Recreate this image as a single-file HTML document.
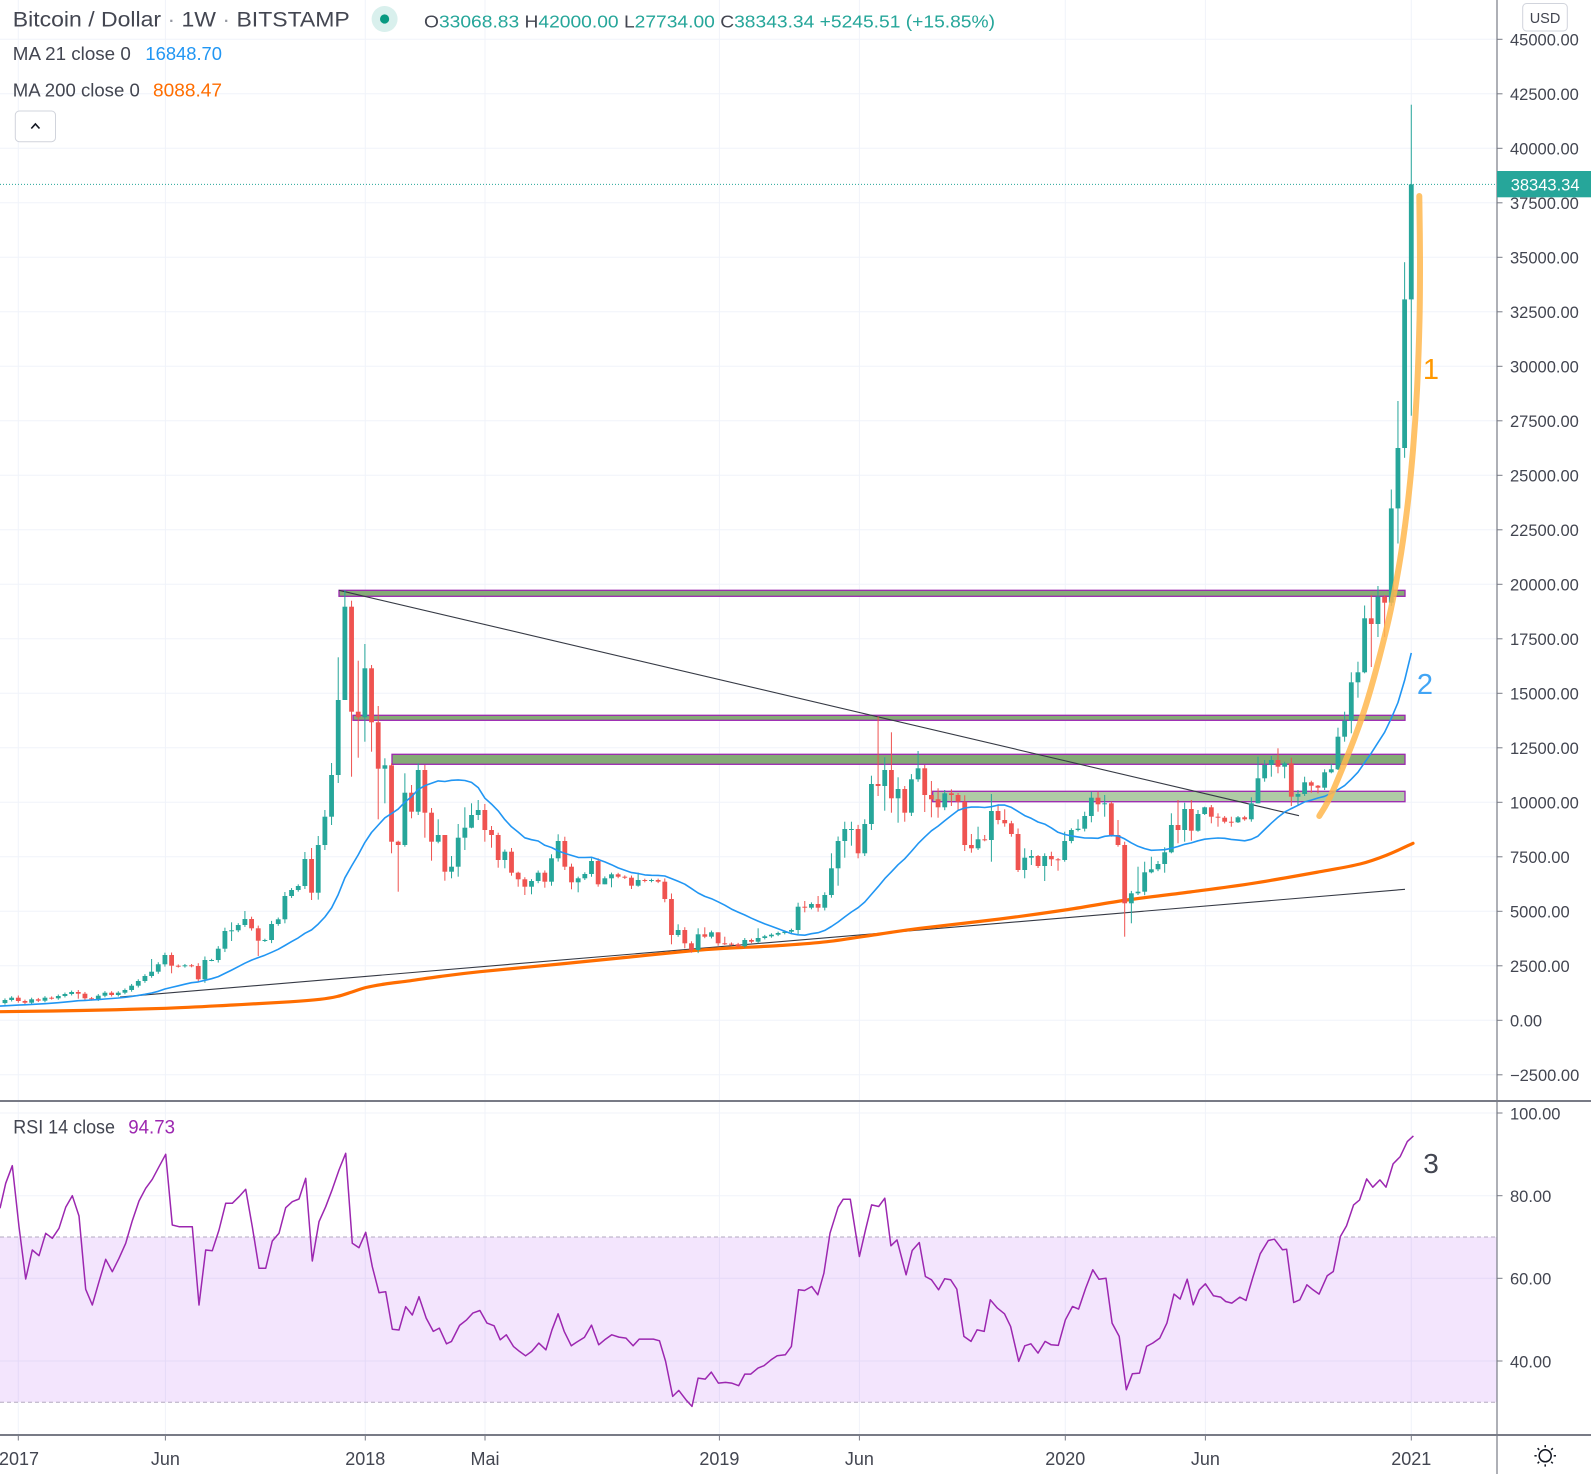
<!DOCTYPE html>
<html><head><meta charset="utf-8"><title>Bitcoin / Dollar 1W</title>
<style>
html,body{margin:0;padding:0;background:#fff}
body{width:1591px;height:1474px;overflow:hidden}
svg{display:block;font-family:"Liberation Sans",Arial,sans-serif}
</style></head><body>
<svg id="c" width="1591" height="1474" viewBox="0 0 1591 1474" xmlns="http://www.w3.org/2000/svg">
<rect width="1591" height="1474" fill="#fff"/>
<!-- grid -->
<g stroke="#f0f3fa" stroke-width="1">
<line x1="18.3" y1="0" x2="18.3" y2="1435"/><line x1="165.4" y1="0" x2="165.4" y2="1435"/>
<line x1="365.3" y1="0" x2="365.3" y2="1435"/><line x1="485" y1="0" x2="485" y2="1435"/>
<line x1="719.4" y1="0" x2="719.4" y2="1435"/><line x1="859.4" y1="0" x2="859.4" y2="1435"/>
<line x1="1065.3" y1="0" x2="1065.3" y2="1435"/><line x1="1205.4" y1="0" x2="1205.4" y2="1435"/>
<line x1="1411.3" y1="0" x2="1411.3" y2="1435"/>
<line x1="0" y1="39.3" x2="1497" y2="39.3"/><line x1="0" y1="93.8" x2="1497" y2="93.8"/>
<line x1="0" y1="148.3" x2="1497" y2="148.3"/><line x1="0" y1="202.8" x2="1497" y2="202.8"/>
<line x1="0" y1="257.3" x2="1497" y2="257.3"/><line x1="0" y1="311.8" x2="1497" y2="311.8"/>
<line x1="0" y1="366.3" x2="1497" y2="366.3"/><line x1="0" y1="420.8" x2="1497" y2="420.8"/>
<line x1="0" y1="475.3" x2="1497" y2="475.3"/><line x1="0" y1="529.8" x2="1497" y2="529.8"/>
<line x1="0" y1="584.3" x2="1497" y2="584.3"/><line x1="0" y1="638.8" x2="1497" y2="638.8"/>
<line x1="0" y1="693.3" x2="1497" y2="693.3"/><line x1="0" y1="747.8" x2="1497" y2="747.8"/>
<line x1="0" y1="802.3" x2="1497" y2="802.3"/><line x1="0" y1="856.8" x2="1497" y2="856.8"/>
<line x1="0" y1="911.3" x2="1497" y2="911.3"/><line x1="0" y1="965.8" x2="1497" y2="965.8"/>
<line x1="0" y1="1020.3" x2="1497" y2="1020.3"/><line x1="0" y1="1074.8" x2="1497" y2="1074.8"/>
<line x1="0" y1="1113" x2="1497" y2="1113"/><line x1="0" y1="1195.7" x2="1497" y2="1195.7"/>
<line x1="0" y1="1278.3" x2="1497" y2="1278.3"/><line x1="0" y1="1361" x2="1497" y2="1361"/>
</g>
<!-- RSI band -->
<rect x="0" y="1237" width="1497" height="165.3" fill="rgb(155,38,238)" fill-opacity="0.12"/>
<g stroke="#b3a9c0" stroke-width="1" stroke-dasharray="4 3">
<line x1="0" y1="1237" x2="1497" y2="1237"/><line x1="0" y1="1402.3" x2="1497" y2="1402.3"/>
</g>
<!-- zones -->
<g stroke="#9c27b0" stroke-width="1.3">
<rect x="339" y="590.3" width="1066" height="6" fill="#85ab76"/>
<rect x="353" y="715.3" width="1052" height="5" fill="#85ab76"/>
<rect x="392" y="754.3" width="1013" height="10" fill="#85ab76"/>
<rect x="932.7" y="791.3" width="472.3" height="10.4" fill="#afcba5"/>
</g>
<!-- trendlines -->
<line x1="339" y1="590.3" x2="1299" y2="815.7" stroke="#363a45" stroke-width="1.1"/>
<line x1="120" y1="997" x2="1405" y2="889.3" stroke="#363a45" stroke-width="1.1"/>
<g id="dyn"></g>
<!-- current price line -->
<line x1="0" y1="184.4" x2="1497" y2="184.4" stroke="#26a69a" stroke-width="1" stroke-dasharray="1 2"/>
<!-- annotations -->
<text x="1431" y="379" font-size="29" fill="#ff9800" text-anchor="middle">1</text>
<text x="1425" y="694" font-size="29" fill="#42a5f5" text-anchor="middle">2</text>
<text x="1431" y="1173" font-size="28" fill="#434651" text-anchor="middle">3</text>
<!-- axes -->
<rect x="1498" y="0" width="93" height="1474" fill="#fff"/>
<rect x="0" y="1436" width="1591" height="38" fill="#fff"/>
<line x1="1497" y1="0" x2="1497" y2="1474" stroke="#787b86" stroke-width="1.2"/>
<line x1="0" y1="1101" x2="1591" y2="1101" stroke="#787b86" stroke-width="2"/>
<line x1="0" y1="1435" x2="1591" y2="1435" stroke="#787b86" stroke-width="2"/>
<g stroke="#787b86" stroke-width="1">
<line x1="1497" y1="39.3" x2="1502.5" y2="39.3"/><line x1="1497" y1="93.8" x2="1502.5" y2="93.8"/>
<line x1="1497" y1="148.3" x2="1502.5" y2="148.3"/><line x1="1497" y1="202.8" x2="1502.5" y2="202.8"/>
<line x1="1497" y1="257.3" x2="1502.5" y2="257.3"/><line x1="1497" y1="311.8" x2="1502.5" y2="311.8"/>
<line x1="1497" y1="366.3" x2="1502.5" y2="366.3"/><line x1="1497" y1="420.8" x2="1502.5" y2="420.8"/>
<line x1="1497" y1="475.3" x2="1502.5" y2="475.3"/><line x1="1497" y1="529.8" x2="1502.5" y2="529.8"/>
<line x1="1497" y1="584.3" x2="1502.5" y2="584.3"/><line x1="1497" y1="638.8" x2="1502.5" y2="638.8"/>
<line x1="1497" y1="693.3" x2="1502.5" y2="693.3"/><line x1="1497" y1="747.8" x2="1502.5" y2="747.8"/>
<line x1="1497" y1="802.3" x2="1502.5" y2="802.3"/><line x1="1497" y1="856.8" x2="1502.5" y2="856.8"/>
<line x1="1497" y1="911.3" x2="1502.5" y2="911.3"/><line x1="1497" y1="965.8" x2="1502.5" y2="965.8"/>
<line x1="1497" y1="1020.3" x2="1502.5" y2="1020.3"/><line x1="1497" y1="1074.8" x2="1502.5" y2="1074.8"/>
<line x1="1497" y1="1113" x2="1502.5" y2="1113"/><line x1="1497" y1="1195.7" x2="1502.5" y2="1195.7"/>
<line x1="1497" y1="1278.3" x2="1502.5" y2="1278.3"/><line x1="1497" y1="1361" x2="1502.5" y2="1361"/>
<line x1="18.3" y1="1436" x2="18.3" y2="1440.5"/><line x1="165.4" y1="1436" x2="165.4" y2="1440.5"/>
<line x1="365.3" y1="1436" x2="365.3" y2="1440.5"/><line x1="485" y1="1436" x2="485" y2="1440.5"/>
<line x1="719.4" y1="1436" x2="719.4" y2="1440.5"/><line x1="859.4" y1="1436" x2="859.4" y2="1440.5"/>
<line x1="1065.3" y1="1436" x2="1065.3" y2="1440.5"/><line x1="1205.4" y1="1436" x2="1205.4" y2="1440.5"/>
<line x1="1411.3" y1="1436" x2="1411.3" y2="1440.5"/>
</g>
<g font-size="16.5" fill="#434651">
<text x="1510" y="45.7">45000.00</text><text x="1510" y="100.2">42500.00</text>
<text x="1510" y="154.7">40000.00</text><text x="1510" y="209.2">37500.00</text>
<text x="1510" y="263.7">35000.00</text><text x="1510" y="318.2">32500.00</text>
<text x="1510" y="372.7">30000.00</text><text x="1510" y="427.2">27500.00</text>
<text x="1510" y="481.7">25000.00</text><text x="1510" y="536.2">22500.00</text>
<text x="1510" y="590.7">20000.00</text><text x="1510" y="645.2">17500.00</text>
<text x="1510" y="699.7">15000.00</text><text x="1510" y="754.2">12500.00</text>
<text x="1510" y="808.7">10000.00</text><text x="1510" y="863.2">7500.00</text>
<text x="1510" y="917.7">5000.00</text><text x="1510" y="972.2">2500.00</text>
<text x="1510" y="1026.7">0.00</text><text x="1510" y="1081.2">−2500.00</text>
<text x="1510" y="1119.4">100.00</text><text x="1510" y="1202.1">80.00</text>
<text x="1510" y="1284.7">60.00</text><text x="1510" y="1367.4">40.00</text>
</g>
<rect x="1497" y="171" width="94" height="26.3" fill="#26a69a"/>
<text x="1510.7" y="190.4" font-size="16.5" fill="#ffffff">38343.34</text>
<rect x="1522.7" y="3.5" width="44.6" height="27.5" rx="4" fill="#fff" stroke="#d1d4dc" stroke-width="1"/>
<text x="1545" y="22.8" font-size="14.5" fill="#434651" text-anchor="middle">USD</text>
<g font-size="18" fill="#434651" text-anchor="middle">
<text x="19" y="1465">2017</text><text x="165.4" y="1465">Jun</text>
<text x="365.3" y="1465">2018</text><text x="485" y="1465">Mai</text>
<text x="719.4" y="1465">2019</text><text x="859.4" y="1465">Jun</text>
<text x="1065.3" y="1465">2020</text><text x="1205.4" y="1465">Jun</text>
<text x="1411.3" y="1465">2021</text>
</g>
<g stroke="#131722" stroke-width="1.5" fill="none">
<circle cx="1545.2" cy="1455.8" r="6"/>
<line x1="1545.2" y1="1445" x2="1545.2" y2="1447.3"/><line x1="1545.2" y1="1464.3" x2="1545.2" y2="1466.6"/>
<line x1="1534.4" y1="1455.8" x2="1536.7" y2="1455.8"/><line x1="1553.7" y1="1455.8" x2="1556" y2="1455.8"/>
<line x1="1537.6" y1="1448.2" x2="1539.2" y2="1449.8"/><line x1="1551.2" y1="1461.8" x2="1552.8" y2="1463.4"/>
<line x1="1537.6" y1="1463.4" x2="1539.2" y2="1461.8"/><line x1="1551.2" y1="1449.8" x2="1552.8" y2="1448.2"/>
</g>
<!-- legend -->
<text x="12.8" y="26.7" font-size="21" fill="#434651" textLength="337" lengthAdjust="spacingAndGlyphs">Bitcoin / Dollar <tspan fill="#9598a1">·</tspan> 1W <tspan fill="#9598a1">·</tspan> BITSTAMP</text>
<circle cx="384.6" cy="19" r="13" fill="#d9f0ed"/>
<circle cx="384.6" cy="19" r="4.6" fill="#089981"/>
<text x="424" y="27.3" font-size="17.5" fill="#26a69a" textLength="571" lengthAdjust="spacingAndGlyphs"><tspan fill="#434651">O</tspan>33068.83 <tspan fill="#434651">H</tspan>42000.00 <tspan fill="#434651">L</tspan>27734.00 <tspan fill="#434651">C</tspan>38343.34 +5245.51 (+15.85%)</text>
<text x="12.8" y="60" font-size="18.5" fill="#434651" textLength="118" lengthAdjust="spacingAndGlyphs">MA 21 close 0</text>
<text x="145.4" y="60" font-size="18.5" fill="#2196f3" textLength="76.6" lengthAdjust="spacingAndGlyphs">16848.70</text>
<text x="12.8" y="96.5" font-size="18.5" fill="#434651" textLength="127" lengthAdjust="spacingAndGlyphs">MA 200 close 0</text>
<text x="153" y="96.5" font-size="18.5" fill="#ff6d00" textLength="69" lengthAdjust="spacingAndGlyphs">8088.47</text>
<rect x="15.3" y="111" width="40.2" height="30.7" rx="4" fill="#fff" stroke="#d1d4dc" stroke-width="1"/>
<path d="M31.3,128.5 L35.4,124 L39.5,128.5" fill="none" stroke="#131722" stroke-width="1.6"/>
<text x="13.3" y="1133.3" font-size="19" fill="#434651" textLength="101.7" lengthAdjust="spacingAndGlyphs">RSI 14 close</text>
<text x="128.3" y="1133.3" font-size="19" fill="#9c27b0" textLength="46.7" lengthAdjust="spacingAndGlyphs">94.73</text>
</svg>
<script>
(function(){
var NS="http://www.w3.org/2000/svg";
var dyn=document.getElementById('dyn');
function add(tag,a,parent){var e=document.createElementNS(NS,tag);for(var k in a)e.setAttribute(k,a[k]);(parent||dyn).appendChild(e);return e;}
function yp(p){return 1020.3-p*0.0218;}
function xk(k){return 18.3+k*6.665;}
function smooth(pts){var d='M'+pts[0][0]+','+pts[0][1];for(var i=0;i<pts.length-1;i++){var p0=pts[i-1]||pts[i],p1=pts[i],p2=pts[i+1],p3=pts[i+2]||p2;var c1x=p1[0]+(p2[0]-p0[0])/6,c1y=p1[1]+(p2[1]-p0[1])/6,c2x=p2[0]-(p3[0]-p1[0])/6,c2y=p2[1]-(p3[1]-p1[1])/6;d+=' C'+c1x.toFixed(2)+','+c1y.toFixed(2)+' '+c2x.toFixed(2)+','+c2y.toFixed(2)+' '+p2[0]+','+p2[1];}return d;}
var pre=[655,624,590,568,580,570,608,606,608,602,612,617,638,657,700,703,703,740,736,765,790].map(yp);
var raw="-2 1000\n-1 997.7\n0 1001 995.5 1002.7\n1 1002.7\n2 999.3\n3 1000.7\n4 997.7\n5 998.3\n6 996\n7 994\n8 992\n9 993.7 990 998.7\n10 998.3\n11 999.3\n12 995.7\n13 992.7\n14 995\n15 992.7\n16 990\n17 985.7\n18 981\n19 976\n20 971.7 959 0\n21 964.3\n22 955\n23 965.7 0 973.3\n24 966.3\n25 965.3\n26 966\n27 979.3\n28 960\n29 960\n30 948.7\n31 931\n32 930.3 922.3 941\n33 925\n34 919 911 0\n35 928.3\n36 940.7 0 956\n37 940\n38 924\n39 919.3\n40 896\n41 890\n42 886\n43 859 852 889\n44 892.7 848 900\n45 845 836 0\n46 816.7 810 850\n47 775 763 825\n48 700 657.3 783\n49 606.7 590 700\n50 711.7 600.7 776.7\n51 717.3 660.7 757.7\n52 668.3 644 741.7\n53 722.3 665 751.7\n54 768.7 706 819.3\n55 765.3 758.3 803.3\n56 841.7 763.3 853.3\n57 845 840.7 891.7\n58 792.7 773.3 846.7\n59 811.7 785 818.3\n60 770 763.3 815\n61 812.7 765 837.7\n62 841.7 818.3 860.7\n63 835 819.3 843.3\n64 871.7 835 880.7\n65 866.7 856 878.3\n66 837.7 824 876.7\n67 827.7 807.3 850\n68 815 803.3 828.3\n69 810 800 820\n70 830 804 841.7\n71 835 826 847.7\n72 860 832.7 867.7\n73 851.7 0 868.3\n74 872.7 0 875.7\n75 879.3 871.7 886.7\n76 886.7 0 895\n77 881 0 894.3\n78 872.7\n79 881.7 0 887.7\n80 858.3\n81 841 834.3 0\n82 866.7 0 870\n83 882.3 0 889.3\n84 878.3 0 892.3\n85 874\n86 861\n87 884.3 858.3 886.7\n88 878.3 0 884.3\n89 874.3 0 887.3\n90 876.7\n91 877.7\n92 885.7 0 889\n93 880 872.7 886.7\n94 881\n95 880\n96 881.7\n97 899\n98 935 0 944.3\n99 930 924.3 0\n100 943.3 0 948.3\n101 950 0 952.7\n102 934.3 928.3 0\n103 936.7 927.3 0\n104 932.3\n105 943.3 932.3 0\n106 943.7 936.7 0\n107 944.3\n108 946.3\n109 940 0 947.7\n110 941.7\n111 938 928.3 0\n112 936.3\n113 934.7\n114 933\n115 931.7\n116 930\n117 906.7 902.7 0\n118 907.7 901 912.3\n119 904\n120 907.7 896 911.7\n121 895 892.3 0\n122 868.3 853.3 897.7\n123 841 0 885.7\n124 829 821.7 857.7\n125 829 821.7 845.7\n126 853.3 0 858.3\n127 824 0 856\n128 784 775.7 0\n129 786 716.7 796\n130 770 757.3 810.7\n131 798.3 732.3 812.7\n132 789 777.3 822.7\n133 812.7 786 821.7\n134 779.3 0 816\n135 768.3 751 0\n136 795 765 812\n137 799.3 781 817.3\n138 807.3 788.3 817.7\n139 793.3 790 806.7\n140 795 789.3 806\n141 801.7 0 810\n142 845 0 851\n143 848.3 834 852.7\n144 839.3 826.7 850\n145 840 835 0\n146 811 794 861.7\n147 820 804.3 824.3\n148 823.3 809.3 826.7\n149 834 0 836.7\n150 870 0 872\n151 857.7 848.3 878.3\n152 856 850 865\n153 866 855 868\n154 856 853.3 881\n155 859.3 851.7 866\n156 860 0 870.7\n157 841 831.7 861.7\n158 830 828.3 843.3\n159 828.7 819.3 0\n160 816 811.7 823.3\n161 797.7 791.7 822.3\n162 804.3 791.7 811.7\n163 803.3 795 816.7\n164 835 801.7 836.7\n165 845 820 846.7\n166 903.3 841.7 936.7\n167 893.3 0 923.3\n168 891.7 866.7 895\n169 872.3 861.7 0\n170 869.3 856.7 873.3\n171 864 861 0\n172 852.3 847.3 872.7\n173 825 813.3 853.3\n174 830 800 843.3\n175 809 802.7 841.7\n176 830.7 800 840.7\n177 814 810 831.7\n178 807.3 806.7 815\n179 816.7 805 823.3\n180 817.7 813.3 826.7\n181 821.7\n182 822.3 816.7 826.7\n183 817.3 816 823\n184 819.3\n185 803.3 797.3 821.7\n186 778.3 756.7 803.3\n187 765 760 781.7\n188 760 756 776.7\n189 766.7 748.3 773.3\n190 763.3 761.7 778.3\n191 796.7 757.7 806\n192 794 790 806\n193 782.3 776.7 796\n194 785.7 780.7 792.7\n195 787.7 785 793.3\n196 772.3 769.3 790\n197 769.3 764 773.3\n198 736.7 727.7 770\n199 720.7 711.7 741.7\n200 682.3 672.3 733.3\n201 672.3 661.7 697.7\n202 618.3 605.5 673.3\n203 624 595 667\n204 596.7 586 637\n205 602.7 595 637\n206 508.4 489.5 606\n207 448 401 543.5\n208 299.4 262.2 457.8\n209 184.4 104.7 415.7";
var rows=raw.split("\n").map(function(l){return l.trim().split(/\s+/).map(Number);});
var closes=pre.slice();
rows.forEach(function(r){closes.push(r[1]);});
/* MA200 */
var ma200=[[0,1011.7],[80,1010.5],[166,1008.3],[233,1005],[290,1001.8],[320,999.3],[337,996.5],[352,992],[366,987.5],[385,984],[410,980.8],[440,976.5],[480,971.7],[560,964],[630,957],[693,950.7],[727,948.3],[780,945.5],[827,941.7],[880,934],[920,928.3],[1000,919],[1065,910],[1127,900],[1190,892],[1253,883.3],[1320,871.7],[1360,864],[1387,855],[1413,843.3]];
add('path',{d:smooth(ma200),fill:'none',stroke:'#ff6d00','stroke-width':3.2,'stroke-linejoin':'round','stroke-linecap':'round'});
/* candles */
var gC=add('g',{});
var prev=pre[pre.length-1];
rows.forEach(function(r){
 var k=r[0],c=r[1],o=prev;prev=c;
 var top=Math.min(o,c),bot=Math.max(o,c),bh=bot-top;
 var h=r[2]||0,l=r[3]||0,ext=1.2+bh*0.12;
 if(!h||h>top)h=top-ext;
 if(!l||l<bot)l=bot+ext;
 var col=(c<=o)?'#26a69a':'#ef5350';
 var x=xk(k);
 add('rect',{x:(x-0.5).toFixed(2),y:h.toFixed(2),width:1,height:(l-h).toFixed(2),fill:col},gC);
 add('rect',{x:(x-2.4).toFixed(2),y:top.toFixed(2),width:4.8,height:Math.max(bh,1).toFixed(2),fill:col},gC);
});
/* MA21 */
var pts=[];
for(var i=20;i<closes.length;i++){var s=0;for(var j=i-20;j<=i;j++)s+=closes[j];pts.push(xk(i-23).toFixed(1)+','+(s/21).toFixed(1));}
add('polyline',{points:pts.join(' '),fill:'none',stroke:'#2196f3','stroke-width':1.6,'stroke-linejoin':'round'});
/* RSI */
var A=[0,1208.3,5.7,1183.3,12.3,1165.7,19,1226.7,25.7,1279,32.3,1250,39,1255.7,45.7,1233.3,52.3,1238.3,59,1228.3,65.7,1207.3,72.3,1195.7,79,1216,85.7,1289.3,92.3,1305,99,1281.7,105.7,1259.3,112.3,1271.7,119,1258.3,125.7,1243.3,132.3,1220.7,139,1201,145.7,1188.3,152.3,1179.3,159,1166.7,165.7,1154.3,172.3,1225,179,1226.7,192.3,1226.7,199,1305,205.7,1250,212.3,1250.7,219,1230,225.7,1203.3,232.3,1203.3,239,1196.7,245.7,1189.3,252.3,1226.7,259,1268.3,265.7,1268.3,272.3,1241,279,1233.3,285.7,1207.7,292.3,1201.7,299,1199,305.7,1178.3,312.3,1261,319,1221.7,325.7,1206.7,332.3,1189.3,339,1170,345.7,1153.3,352.3,1243.3,359,1247.7,365.7,1232.3,372.3,1266.7,379,1292.7,385.7,1291.7,392.3,1329.3,399,1330,405.7,1306.7,412.3,1315,419,1296.7];
var B=[420,775,427,815,433,805,440,852,445,845,453,797,460,780,466,760,473,752,480,790,487,798,493,840,499,825,506,860,512,875,518,888,524,875,531,850,538,870,544,810,550,762,556,815,563,858,568,848,576,833,583,796,590,855,596,840,603,825,610,832,617,835,624,858,630,838,637,838,644,838,650,843,656,905,663,1010,669,992,676,1020,682,1040,688,955,695,958,701,937,708,970,715,968,721,970,728,978,734,943,740,943,747,925,753,918,760,900,766,888,774,885,780,860,787,690,793,692,800,680,806,705,812,640,818,520,826,442,831,418,838,418,847,590,853,510,859,435,866,440,872,415,878,558,884,540,893,645,899,572,906,548,912,650,918,660,925,690,931,657,937,660,943,688,950,830,957,845,963,810,970,815,976,720,983,745,990,762,996,800,1004,905,1010,858,1016,852,1023,880,1030,845,1036,855,1043,857,1050,780,1057,740,1063,748,1070,685,1077,630,1083,658,1090,655,1096,790,1103,830,1110,990,1116,942,1123,940,1130,860,1136,850,1143,835,1150,790,1157,703,1163,718,1170,658,1176,735,1182,690,1188,672,1196,708,1203,712,1208,725,1214,730,1222,712,1228,722,1235,650,1242,582,1250,542,1256,538,1264,570,1268,568,1275,728,1281,720,1288,675,1294,690,1300,703,1308,648,1314,635,1321,530,1327,498,1334,435,1340,420,1347,357,1353,382,1360,360,1366,382,1373,312,1380,290,1387,245,1393,228];
var rp=[];
for(var a=0;a<A.length;a+=2)rp.push(A[a]+','+A[a+1]);
for(var b=0;b<B.length;b+=2)rp.push((B[b]/0.98555).toFixed(1)+','+(1060+B[b+1]*0.33306).toFixed(1));
add('polyline',{points:rp.join(' '),fill:'none',stroke:'#9c27b0','stroke-width':1.5,'stroke-linejoin':'round'});
/* orange arc */
var arc=[[1319.3,816],[1333.3,790],[1363.3,713.3],[1386.7,628],[1399,566],[1407,510],[1413,450],[1417,390],[1419.5,320],[1420,260],[1419.3,196]];
add('path',{d:smooth(arc),fill:'none',stroke:'#ffb74d','stroke-opacity':0.85,'stroke-width':6,'stroke-linecap':'round','stroke-linejoin':'round'});
})();
</script>
</body></html>
